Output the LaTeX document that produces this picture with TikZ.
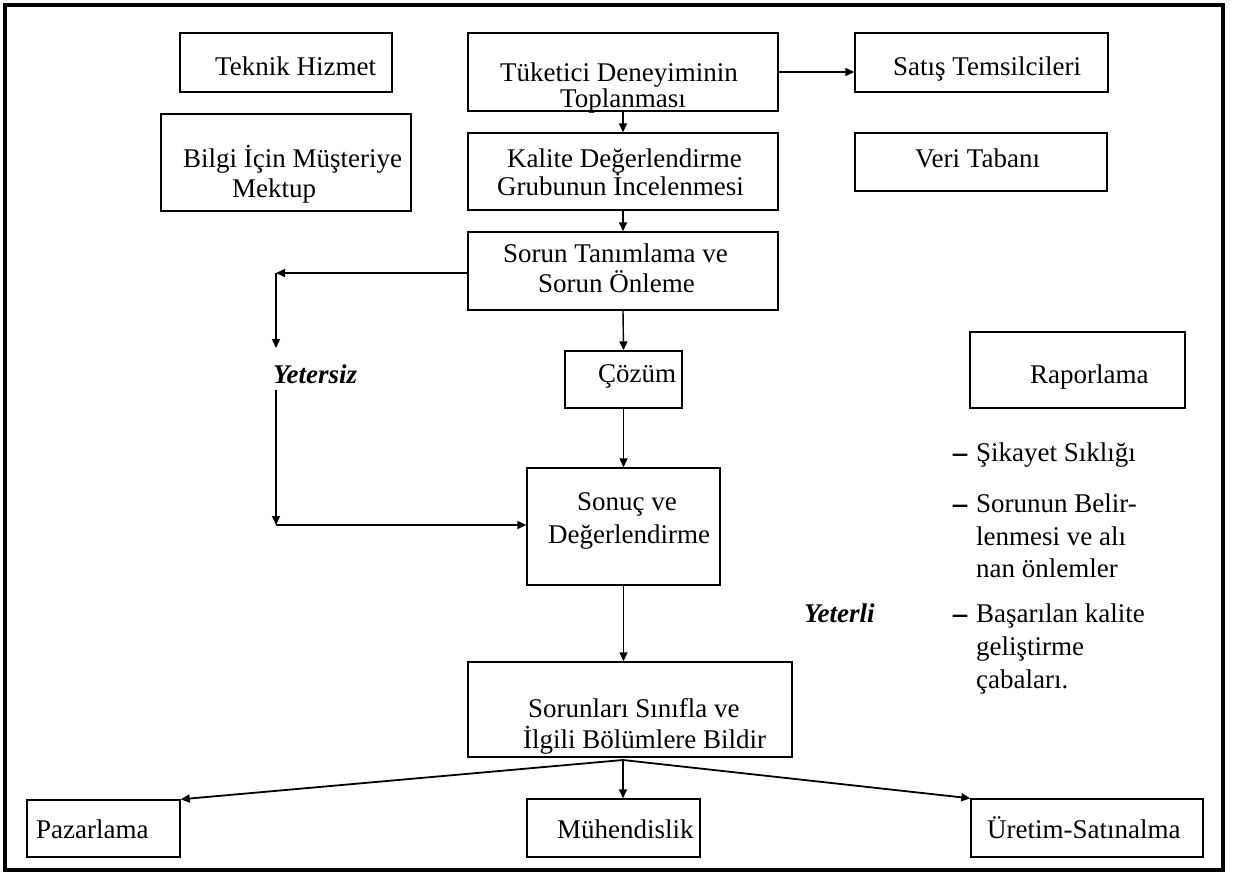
\documentclass[tikz,border=0pt]{standalone}
\usepackage{fontspec}
\setmainfont{Liberation Serif}
\newfontface\dashface[FakeBold=3]{Liberation Serif}
\usetikzlibrary{arrows.meta}

\tikzset{
  box/.style={draw, line width=1.4pt, rectangle, inner sep=0pt},
  lbl/.style={inner sep=0pt, anchor=base west, font=\fontsize{27}{30}\selectfont},
  tag/.style={lbl, font=\fontsize{27}{30}\selectfont\bfseries\itshape},
  link/.style={line width=1.4pt, -{Triangle[length=9pt,width=8pt]}},
  fanlink/.style={link, line width=1.8pt},
}
\newcommand{\bulletdash}{\makebox[23pt][l]{\dashface –}}

\begin{document}
\begin{tikzpicture}[x=1pt, y=-1pt]
\useasboundingbox (0,0) rectangle (1233,873);
% outer frame
\draw[line width=3.5pt] (5,5) rectangle (1223,870);

% boxes
\node[box, minimum width=212pt, minimum height=59pt] (tek) at (286,62.5) {};
\node[box, minimum width=250pt, minimum height=97pt] (bil) at (286,162.5) {};
\node[box, minimum width=310pt, minimum height=78pt] (tuk) at (623,72) {};
\node[box, minimum width=253pt, minimum height=59pt] (sat) at (981.5,62.5) {};
\node[box, minimum width=310pt, minimum height=77pt] (kal) at (623,171.5) {};
\node[box, minimum width=252pt, minimum height=58pt] (ver) at (981,162) {};
\node[box, minimum width=310pt, minimum height=78pt] (sor) at (623,271) {};
\node[box, minimum width=117pt, minimum height=57pt] (coz) at (623.5,379.5) {};
\node[box, minimum width=193pt, minimum height=117pt] (son) at (623.5,526.5) {};
\node[box, minimum width=215pt, minimum height=76pt] (rap) at (1077.5,370) {};
\node[box, minimum width=324pt, minimum height=95pt] (srl) at (630,709.5) {};
\node[box, minimum width=153pt, minimum height=57pt] (paz) at (103.5,828.5) {};
\node[box, minimum width=173pt, minimum height=58pt] (muh) at (613.5,828) {};
\node[box, minimum width=232pt, minimum height=58pt] (ure) at (1087,828) {};

% box texts
\node[lbl] (tekA) at (215,75) {Teknik Hizmet};
\node[lbl] (bilA) at (183,167) {Bilgi İçin Müşteriye};
\node[lbl] (bilB) at (232,197) {Mektup};
\node[lbl] (tukA) at (500,81) {Tüketici Deneyiminin};
\node[lbl] (tukB) at (560,107) {Toplanması};
\node[lbl] (satA) at (893,75) {Satış Temsilcileri};
\node[lbl] (kalA) at (507,167) {Kalite Değerlendirme};
\node[lbl] (kalB) at (497,195) {Grubunun İncelenmesi};
\node[lbl] (verA) at (915,167) {Veri Tabanı};
\node[lbl] (sorA) at (503,262) {Sorun Tanımlama ve};
\node[lbl] (sorB) at (538,292) {Sorun Önleme};
\node[lbl] (cozA) at (598,382) {Çözüm};
\node[lbl] (sonA) at (577,510) {Sonuç ve};
\node[lbl] (sonB) at (548,543) {Değerlendirme};
\node[lbl] (srlA) at (528,717) {Sorunları Sınıfla ve};
\node[lbl] (srlB) at (523,748) {İlgili Bölümlere Bildir};
\node[lbl] (rapA) at (1030,383) {Raporlama};
\node[lbl] (pazA) at (36,838) {Pazarlama};
\node[lbl] (muhA) at (557,838) {Mühendislik};
\node[lbl] (ureA) at (987,838) {Üretim-Satınalma};

% branch labels
\node[tag] (yetersiz) at (273,383) {Yetersiz};
\node[tag] (yeterli) at (804,622) {Yeterli};

% report items
\node[lbl] (r1) at (953,461) {\bulletdash Şikayet Sıklığı};
\node[lbl] (r2) at (953,512) {\bulletdash Sorunun Belir-};
\node[lbl] (r2b) at (976,545) {lenmesi ve alı};
\node[lbl] (r2c) at (976,577) {nan önlemler};
\node[lbl] (r3) at (953,622) {\bulletdash Başarılan kalite};
\node[lbl] (r3b) at (976,655) {geliştirme};
\node[lbl] (r3c) at (976,688) {çabaları.};

% main chain
\draw[link] (tuk.east |- 0,72) -- (sat.west |- 0,72);
\draw[link] (tuk.south) -- (kal.north);
\draw[link] (kal.south) -- (sor.north);
\draw[link] (sor.south) -- (coz.north);
\draw[link] (coz.south) -- (son.north);
\draw[link] (son.south) -- (son.south |- srl.north);

% insufficient loop
\coordinate (lt) at (276,273);
\coordinate (ld) at (276,348);
\coordinate (lr) at (276,390);
\coordinate (lb) at (276,525);
\draw[link] (sor.west |- lt) -- (lt);
\draw[link] (lt) -- (ld);
\draw[link] (lr) -- (lb);
\draw[link] (lb) -- (son.west |- lb);

% distribution fan
\coordinate (fan) at (623,760);
\draw[fanlink] (fan) -- (paz.north east);
\draw[link] (fan) -- (fan |- muh.north);
\draw[fanlink] (fan) -- (ure.north west);
\end{tikzpicture}
\end{document}
